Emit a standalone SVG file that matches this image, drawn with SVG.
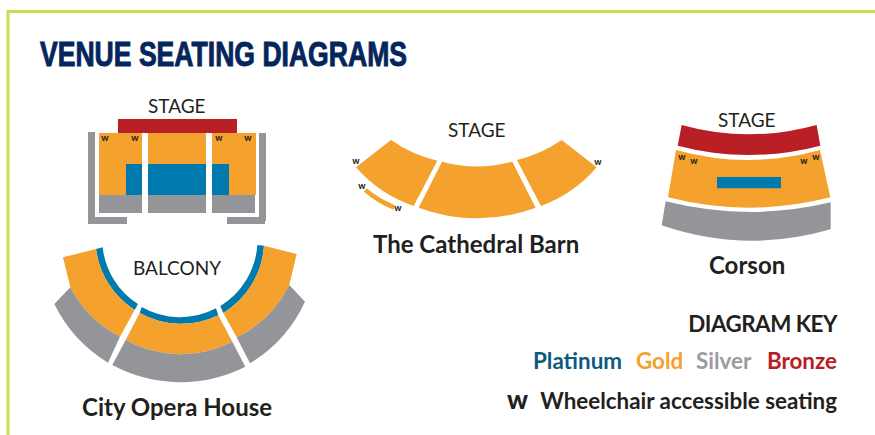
<svg xmlns="http://www.w3.org/2000/svg" width="875" height="435" viewBox="0 0 875 435">
<style>
text{font-family:Lato,"Noto Sans",sans-serif;fill:#231f20}
.s{font-size:19px}
.n{font-size:24px;font-weight:700}
.w{font-size:9px;font-weight:900;text-anchor:middle}
.k{font-size:22.400px;font-weight:700}
.au{fill:#f5a12d}.pt{fill:#007aae}.ag{fill:#939598}.br{fill:#b92025}
</style>
<rect width="875" height="435" fill="#fff"/>
<path d="M8 435V11.500H875" fill="none" stroke="#c8df52" stroke-width="3"/>
<text x="40" y="66" textLength="367" lengthAdjust="spacingAndGlyphs" style="font-family:'Liberation Sans',sans-serif;font-size:35.500px;font-weight:700;fill:#04265c;stroke:#04265c;stroke-width:1">VENUE SEATING DIAGRAMS</text>
<g id="city-opera-stage">
<rect class="br" x="118" y="119" width="119" height="14"/>
<path class="au" d="M99 133H142V195H99ZM148 133H206V195H148ZM212 133H256V195H212Z"/>
<path class="pt" d="M126 164H142V195H126ZM148 164H206V195H148ZM212 164H229V195H212Z"/>
<path class="ag" d="M99 195H142V213H99ZM148 195H206V213H148ZM212 195H255V213H212Z"/>
<path class="ag" d="M88 132H95V217H127V224H88ZM259 133H266V221H265V224H227V217H259Z"/>
<text class="s" x="148" y="113">STAGE</text>
<text class="w" x="105" y="141">w</text><text class="w" x="135" y="141">w</text><text class="w" x="219" y="141">w</text><text class="w" x="248" y="141">w</text>
</g>
<g id="city-opera-balcony">
<g transform="translate(40 225) scale(.3333)">
<path class="pt" d="M168 72L188 67A232 232 0 0 0 294 237L284 255A256 256 0 0 1 168 72Z"/>
<path class="pt" d="M305 246A232 232 0 0 0 528 250L535 271A256 256 0 0 1 299 264Z"/>
<path class="pt" d="M541 243A232 232 0 0 0 652 60L672 62A256 256 0 0 1 550 264Z"/>
<path class="au" d="M69 97L168 72A256 256 0 0 0 284 255L240 335A340 340 0 0 1 91 187Z"/>
<path class="au" d="M299 264A256 256 0 0 0 535 271L577 350A340 340 0 0 1 257 345Z"/>
<path class="au" d="M550 264A256 256 0 0 0 672 62L770 87L748 180A340 340 0 0 1 590 337Z"/>
<path class="ag" d="M91 187A340 340 0 0 0 240 335L204 413A425 425 0 0 1 43 237Z"/>
<path class="ag" d="M257 345A340 340 0 0 0 577 350L616 425A430 430 0 0 1 217 420Z"/>
<path class="ag" d="M590 337A340 340 0 0 0 748 180L795 230A425 425 0 0 1 630 415Z"/>
</g>
<text class="s" x="133" y="275">BALCONY</text>
<text class="n" x="82" y="416">City Opera House</text>
</g>
<g id="cathedral-barn">
<g class="au" transform="translate(340 110) scale(.3333)">
<path d="M153 90A400 400 0 0 0 292 152L221 288A400 400 0 0 1 48 172Z"/>
<path d="M306 155A400 400 0 0 0 517 155L587 293A500 500 0 0 1 236 293Z"/>
<path d="M531 150A400 400 0 0 0 665 90L770 172A400 400 0 0 1 603 288Z"/>
<path d="M80 235A300 300 0 0 0 164 285L161 299A300 300 0 0 1 72 245Z"/>
</g>
<text class="s" x="448" y="137">STAGE</text>
<text class="w" x="356" y="164">w</text><text class="w" x="362" y="189">w</text><text class="w" x="398" y="211">w</text><text class="w" x="598" y="165">w</text>
<text class="n" x="373" y="252.500">The Cathedral Barn</text>
</g>
<g id="corson">
<g transform="translate(645 100) scale(.3333)">
<path class="br" d="M110 75Q312 131 515 75L526 137Q312 193 98 137Z"/>
<path class="au" d="M93 150Q309 210 525 150L556 292Q312 354 69 292Z"/>
<path class="ag" d="M62 304Q310 366 557 307V388Q300 462 50 376Z"/>
<path class="pt" d="M216 231H408V265H216Z"/>
</g>
<text class="s" x="718" y="127">STAGE</text>
<text class="w" x="682" y="160">w</text><text class="w" x="694" y="164">w</text><text class="w" x="804" y="164">w</text><text class="w" x="816" y="160">w</text>
<text class="n" x="709" y="274">Corson</text>
</g>
<g id="diagram-key">
<text class="k" x="837" y="332" text-anchor="end" style="letter-spacing:-.5px">DIAGRAM KEY</text>
<text class="k" x="533" y="368.500" style="fill:#0d5a80">Platinum</text>
<text class="k" x="636" y="368.500" style="fill:#f5a12d">Gold</text>
<text class="k" x="696" y="368.500" style="fill:#9a9c9f">Silver</text>
<text class="k" x="837" y="368.500" text-anchor="end" style="fill:#b91d24">Bronze</text>
<text x="507" y="409" style="font-size:26px;font-weight:900">w</text>
<text class="k" x="837" y="409" text-anchor="end">Wheelchair accessible seating</text>
</g>
</svg>
